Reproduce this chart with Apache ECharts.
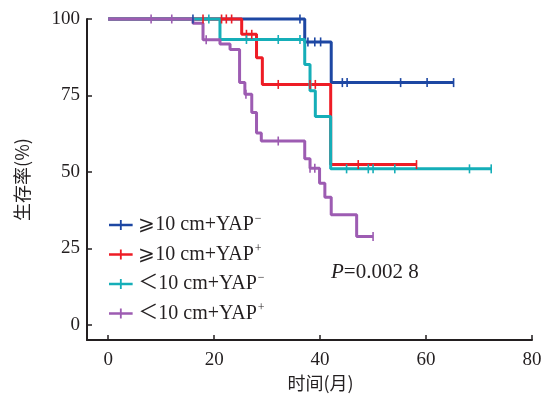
<!DOCTYPE html>
<html>
<head>
<meta charset="utf-8">
<script src="https://cdn.jsdelivr.net/npm/echarts@6/dist/echarts.min.js"></script>
<style>
  html, body { margin: 0; padding: 0; background: #fff; }
  #chart { width: 545px; height: 397px; }
</style>
</head>
<body>
<div id="chart"></div>
<script>
// groups (legend order, later ones drawn on top)
const groupLabels = ['⩾10 cm+YAP', '⩾10 cm+YAP', '＜10 cm+YAP', '＜10 cm+YAP'];
const groupSigns = ['−', '+', '−', '+'];
const groupColors = ['#1d47a3', '#ee1c25', '#15aeb8', '#9d5cb2'];

// event times (months) and survival (%) after each event
const blueTimes = [0, 37.1, 42.1];
const blueSurv = [100, 92.5, 79.2];
const blueCensor = [16.0, 36.2, 37.7, 39.0, 40.1, 44.2, 45.1, 55.2, 60.2, 65.2];

const redTimes = [0, 25.2, 28.0, 29.1, 42.0];
const redSurv = [100, 95.0, 87.3, 78.6, 52.4];
const redCensor = [17.9, 21.4, 22.3, 23.3, 26.1, 27.1, 32.1, 38.1, 39.1, 47.2, 58.2];

const cyanTimes = [0, 21.1, 37.1, 38.1, 39.1, 42.0];
const cyanSurv = [100, 93.3, 85.1, 76.5, 68.1, 51.0];
const cyanCensor = [19.0, 26.1, 32.1, 36.2, 45.0, 49.1, 50.0, 54.1, 68.2, 72.3];

const purpleTimes = [0, 16.0, 17.9, 21.1, 23.0, 24.8, 25.8, 27.1, 28.0, 28.9, 37.1, 38.1, 39.9, 40.9, 42.1, 46.9];
const purpleSurv = [100, 98.6, 93.2, 91.8, 90.0, 79.2, 75.4, 69.4, 62.7, 60.1, 54.3, 51.2, 46.3, 41.7, 36.0, 28.9];
const purpleCensor = [8.1, 12.0, 18.5, 26.0, 32.1, 38.1, 39.0, 50.0];

const xTicks = [0, 20, 40, 60, 80];
const yTicks = [0, 25, 50, 75, 100];
const pValueText = 'P=0.002 8';

const serif = "'Liberation Serif', 'Times New Roman', 'Noto Sans CJK SC', serif";
const ink = '#231f20';

const groups = [
    [blueTimes, blueSurv, blueCensor],
    [redTimes, redSurv, redCensor],
    [cyanTimes, cyanSurv, cyanCensor],
    [purpleTimes, purpleSurv, purpleCensor]
];

// merge events and censored cases into one step line
const buildKM = (times, surv, censor) => {
    const pts = times.map((t, i) => ({ t: t, s: surv[i], c: false }));
    censor.forEach(t => {
        let s = surv[0];
        times.forEach((et, i) => { if (et <= t) s = surv[i]; });
        pts.push({ t: t, s: s, c: true });
    });
    pts.sort((a, b) => a.t - b.t || (a.c ? 1 : -1));
    return pts.map(p => p.c
        ? { value: [p.t, p.s], symbol: 'rect', symbolSize: [1.6, 9] }
        : { value: [p.t, p.s], symbol: 'none' });
};

const seriesNames = groupLabels.map((l, i) => l + groupSigns[i] + i);

const chart = echarts.init(document.getElementById('chart'));

const option = {
    animation: false,
    grid: { left: 87, right: 13, top: 19, bottom: 54 },
    xAxis: {
        type: 'value',
        min: -4,
        max: 80,
        name: '时间(月)',
        nameLocation: 'middle',
        nameGap: 28,
        nameTextStyle: { color: ink, fontSize: 18, fontFamily: "'Noto Sans CJK SC', sans-serif", padding: [0, 0, 0, 22] },
        splitLine: { show: false },
        axisLine: { onZero: false, lineStyle: { color: ink, width: 2 } },
        axisTick: { inside: true, length: 5, customValues: xTicks, lineStyle: { color: ink, width: 1.5 } },
        axisLabel: { customValues: xTicks, color: ink, fontSize: 19, fontFamily: serif, margin: 10 }
    },
    yAxis: {
        type: 'value',
        min: -5,
        max: 100,
        name: '生存率(%)',
        nameLocation: 'middle',
        nameGap: 56,
        nameTextStyle: { color: ink, fontSize: 18, fontFamily: "'Noto Sans CJK SC', sans-serif" },
        splitLine: { show: false },
        axisLine: { onZero: false, lineStyle: { color: ink, width: 2 } },
        axisTick: { inside: true, length: 5, customValues: yTicks, lineStyle: { color: ink, width: 1.5 } },
        axisLabel: { customValues: yTicks, color: ink, fontSize: 19, fontFamily: serif, margin: 7 }
    },
    legend: {
        orient: 'vertical',
        left: 104,
        top: 208,
        itemGap: 7.5,
        itemWidth: 25,
        itemHeight: 10,
        icon: 'path://M0,4H26V7H0ZM12,0H14V11H12Z',
        data: seriesNames,
        formatter: name => {
            const i = seriesNames.indexOf(name);
            return '{t|' + groupLabels[i] + '}{s|' + groupSigns[i] + '}';
        },
        textStyle: {
            color: ink,
            rich: {
                t: { fontSize: 20, fontFamily: serif, color: ink, lineHeight: 24 },
                s: { fontSize: 12, fontFamily: serif, color: ink, verticalAlign: 'top', lineHeight: 10, padding: [0, 0, 0, 1] }
            }
        }
    },
    graphic: [{
        type: 'text',
        left: 331,
        top: 262,
        style: {
            text: '{i|P}' + pValueText.slice(1),
            fill: ink,
            font: '21px ' + serif,
            rich: {
                i: { fontStyle: 'italic', fontSize: 21, fontFamily: serif, fill: ink }
            }
        }
    }],
    series: groups.map((g, i) => ({
        name: seriesNames[i],
        type: 'line',
        step: 'end',
        clip: false,
        showSymbol: true,
        showAllSymbol: true,
        color: groupColors[i],
        lineStyle: { width: 3, color: groupColors[i] },
        itemStyle: { color: groupColors[i] },
        emphasis: { disabled: true },
        data: buildKM(g[0], g[1], g[2])
    }))
};

option && chart.setOption(option);
</script>
</body>
</html>
